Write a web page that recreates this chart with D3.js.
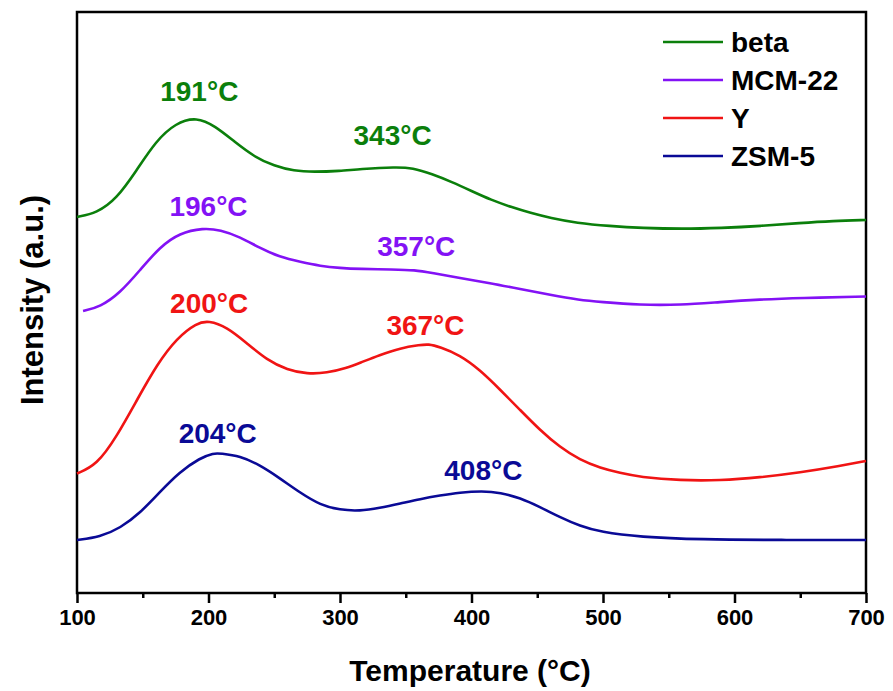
<!DOCTYPE html>
<html>
<head>
<meta charset="utf-8">
<script src="https://cdn.jsdelivr.net/npm/d3@7/dist/d3.min.js"></script>
<style>
  html, body { margin: 0; padding: 0; background: #fff; }
  svg { display: block; }
  text { font-family: "Liberation Sans", Arial, sans-serif; font-weight: bold; }
</style>
</head>
<body>
<svg id="chart" width="893" height="691"></svg>
<script>
// TPD profiles (temperature in °C, intensity in a.u.)
const betaT = [100,115,130,145,160,175,191,205,220,235,250,265,280,300,315,343,355,370,385,400,415,430,445,460,480,505,530,560,590,620,650,675,700];
const betaI = [376,380,394,422,452,470,476,467,451,436,427,422,421,422,424,426,425,419,411,402,393,386,380,375,370,367,365,364,365,367,370,372,373];

const mcmT = [104.6,117.5,132.7,148,163,178,196,209,224,239,254,270,285,300,315,340,357,370,391,414,437,460,482,498,528,559,589,619,650,700];
const mcmI = [282,286,300,323,346,360,365,363,356,345,336,331,327,325,324,323.5,323,320,315,310,304,298,293,291,288,288,291,293.5,295,296.5];

const yT = [100,115,130,146,161,176,191,200,214,229,244.5,260,275,290,305,315,330,346,361,367,376,391,406.5,422,437,452,467,482.5,498,513,528,559,589,619,650,680,700];
const yI = [119.5,128,156,194,229,255,270,272.5,266,250,233,223,219,220,225,230,238,245,248,249,246,238,223,203,183,163,146,133,125,120,116,112.5,112.5,115.5,120.5,127,132];

const zsmT = [100,117.5,133,148,163,178,193.5,204,209,224,239,254,270,285,300,315,330,346,361,376,391,408,422,437,452,467,482.5,498,528,574,635,700];
const zsmI = [53,56,65,80,101,121,135,140,139.5,137,128,115,100,88,83,82,85,89.5,94,97.5,100.5,102,100.5,95,86,76,67,61,56,53.5,53,53];

const seriesNames = ["beta", "MCM-22", "Y", "ZSM-5"];
const seriesColors = ["#0b7f0b", "#8312f5", "#f01414", "#0a0a96"];
const seriesT = [betaT, mcmT, yT, zsmT];
const seriesI = [betaI, mcmI, yI, zsmI];

// peak annotations: text, owning series, label temperature, label baseline intensity
const peakLabels = ["191°C", "343°C", "196°C", "357°C", "200°C", "367°C", "204°C", "408°C"];
const peakSeries = [0, 0, 1, 1, 2, 2, 3, 3];
const peakLabelT = [193, 340, 200, 358, 200.5, 365, 207, 409];
const peakLabelI = [492, 448, 377, 337, 280, 258, 150, 113];

const xTicks = [100, 200, 300, 400, 500, 600, 700];
const xMinorTicks = [150, 250, 350, 450, 550, 650];

const svg = d3.select("#chart");
const plotLeft = 77, plotRight = 866, plotTop = 12, plotBottom = 593;

const x = d3.scaleLinear().domain([100, 700]).range([plotLeft, plotRight]);
const y = d3.scaleLinear().domain([0, 581]).range([plotBottom, plotTop]);

// frame
svg.append("rect")
  .attr("x", plotLeft).attr("y", plotTop)
  .attr("width", plotRight - plotLeft).attr("height", plotBottom - plotTop)
  .attr("fill", "none").attr("stroke", "#000").attr("stroke-width", 2.5);

// bottom axis with major and minor ticks
const xAxis = d3.axisBottom(x).tickValues(xTicks).tickSize(10).tickPadding(6).tickFormat(d3.format("d"));
const gx = svg.append("g").attr("transform", `translate(0,${plotBottom})`).call(xAxis);
gx.select(".domain").remove();
gx.selectAll(".tick line").attr("stroke", "#000").attr("stroke-width", 2.5);
gx.selectAll(".tick text").attr("font-size", 22).attr("fill", "#000")
  .attr("font-family", "Liberation Sans, Arial, sans-serif").attr("font-weight", "bold");

const gxm = svg.append("g").attr("transform", `translate(0,${plotBottom})`)
  .call(d3.axisBottom(x).tickValues(xMinorTicks).tickSize(5).tickFormat(""));
gxm.select(".domain").remove();
gxm.selectAll(".tick line").attr("stroke", "#000").attr("stroke-width", 2.5);

// axis titles
svg.append("text")
  .attr("x", 470).attr("y", 681)
  .attr("text-anchor", "middle").attr("font-size", 30).attr("fill", "#000")
  .text("Temperature (°C)");

svg.append("text")
  .attr("transform", "translate(43,300) rotate(-90)")
  .attr("text-anchor", "middle").attr("font-size", 31).attr("fill", "#000")
  .text("Intensity (a.u.)");

// curves
const line = d3.line()
  .x(d => x(d[0]))
  .y(d => y(d[1]))
  .curve(d3.curveBasis);

seriesNames.forEach((name, i) => {
  const pts = seriesT[i].map((t, k) => [t, seriesI[i][k]]);
  svg.append("path")
    .datum(pts)
    .attr("d", line)
    .attr("fill", "none")
    .attr("stroke", seriesColors[i])
    .attr("stroke-width", 2.6)
    .attr("stroke-linejoin", "round");
});

// peak labels
peakLabels.forEach((lbl, k) => {
  svg.append("text")
    .attr("x", x(peakLabelT[k])).attr("y", y(peakLabelI[k]))
    .attr("text-anchor", "middle")
    .attr("font-size", 28)
    .attr("fill", seriesColors[peakSeries[k]])
    .text(lbl);
});

// legend
const legend = svg.append("g");
seriesNames.forEach((name, i) => {
  const ly = 42 + i * 38;
  legend.append("line")
    .attr("x1", 663).attr("x2", 723).attr("y1", ly).attr("y2", ly)
    .attr("stroke", seriesColors[i]).attr("stroke-width", 2.6);
  legend.append("text")
    .attr("x", 731).attr("y", ly + 10)
    .attr("font-size", 28).attr("fill", "#000")
    .text(name);
});
</script>
</body>
</html>
